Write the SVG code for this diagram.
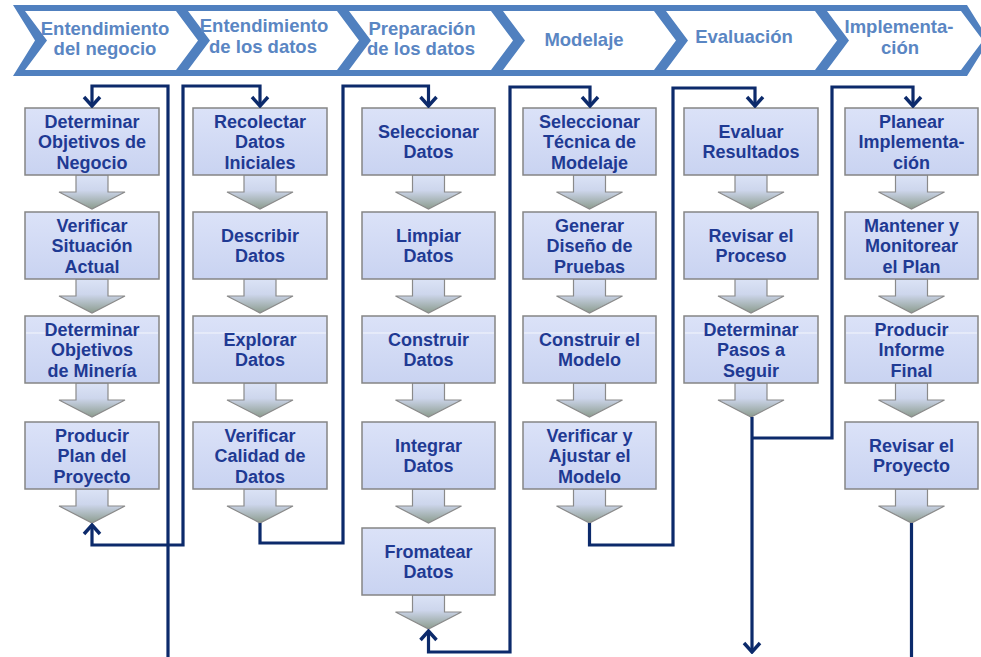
<svg xmlns="http://www.w3.org/2000/svg" width="981" height="657" viewBox="0 0 981 657">
<style>
.ht{font-family:"Liberation Sans",Arial,sans-serif;font-weight:bold;font-size:18.5px;fill:#5a86c3;text-anchor:middle}
.bt{font-family:"Liberation Sans",Arial,sans-serif;font-weight:bold;font-size:18px;fill:#1f3a93;text-anchor:middle}
.box{fill:url(#gBox);stroke:#858585;stroke-width:1.5}
.arr{fill:url(#gArr);stroke:#8a8a8a;stroke-width:1.2}
.hl{stroke:#ffffff;stroke-opacity:0.75;stroke-width:1.2}
.con{fill:none;stroke:#0c2a6b;stroke-width:3.2;stroke-linejoin:miter}
.chev{fill:#ffffff}
</style>
<defs>
<linearGradient id="gBox" x1="0" y1="0" x2="0" y2="1">
<stop offset="0" stop-color="#dbe2f8"/>
<stop offset="1" stop-color="#c9d3f1"/>
</linearGradient>
<linearGradient id="gArr" x1="0" y1="0" x2="0" y2="1">
<stop offset="0" stop-color="#dbe3f6"/>
<stop offset="0.45" stop-color="#cdd6ec"/>
<stop offset="1" stop-color="#8c9c8e"/>
</linearGradient>
<marker id="ah" viewBox="-12 -10 14 20" markerWidth="14" markerHeight="20" markerUnits="userSpaceOnUse" refX="0" refY="0" orient="auto-start-reverse">
<path d="M-9,-8 L0,0 L-9,8" fill="none" stroke="#0c2a6b" stroke-width="3.4"/>
</marker>
<path id="dn" d="M-16,0 V17 H-33 L0,34 L33,17 H16 V0 Z"/>
</defs>

<g id="header">
<polygon points="13,5 967,5 989,40.5 967,76 13,76 35,40.5" fill="#5080bf"/>
<g id="phase1"><polygon class="chev" points="25,11 176,11 198,40.5 176,70 25,70 47,40.5"/>
<text class="ht" x="105" y="35">Entendimiento</text><text class="ht" x="105" y="55">del negocio</text></g>
<g id="phase2"><polygon class="chev" points="188,11 337,11 359,40.5 337,70 188,70 210,40.5"/>
<text class="ht" x="264" y="32">Entendimiento</text><text class="ht" x="263" y="53">de los datos</text></g>
<g id="phase3"><polygon class="chev" points="349,11 491,11 513,40.5 491,70 349,70 371,40.5"/>
<text class="ht" x="422" y="35">Preparación</text><text class="ht" x="421" y="55">de los datos</text></g>
<g id="phase4"><polygon class="chev" points="503,11 654,11 676,40.5 654,70 503,70 525,40.5"/>
<text class="ht" x="584" y="46">Modelaje</text></g>
<g id="phase5"><polygon class="chev" points="666,11 815,11 837,40.5 815,70 666,70 688,40.5"/>
<text class="ht" x="744" y="43">Evaluación</text></g>
<g id="phase6"><polygon class="chev" points="827,11 961,11 983,40.5 961,70 827,70 849,40.5"/>
<text class="ht" x="899" y="33">Implementa-</text><text class="ht" x="900" y="54">ción</text></g>
</g>

<g id="flow-arrows">
<use href="#dn" class="arr" x="92" y="175"/><use href="#dn" class="arr" x="92" y="279"/><use href="#dn" class="arr" x="92" y="383"/><use href="#dn" class="arr" x="92" y="489"/>
<use href="#dn" class="arr" x="260" y="175"/><use href="#dn" class="arr" x="260" y="279"/><use href="#dn" class="arr" x="260" y="383"/><use href="#dn" class="arr" x="260" y="489"/>
<use href="#dn" class="arr" x="428.5" y="175"/><use href="#dn" class="arr" x="428.5" y="279"/><use href="#dn" class="arr" x="428.5" y="383"/><use href="#dn" class="arr" x="428.5" y="489"/><use href="#dn" class="arr" x="428.5" y="595"/>
<use href="#dn" class="arr" x="589.5" y="175"/><use href="#dn" class="arr" x="589.5" y="279"/><use href="#dn" class="arr" x="589.5" y="383"/><use href="#dn" class="arr" x="589.5" y="489"/>
<use href="#dn" class="arr" x="751" y="175"/><use href="#dn" class="arr" x="751" y="279"/><use href="#dn" class="arr" x="751" y="383"/>
<use href="#dn" class="arr" x="911.5" y="175"/><use href="#dn" class="arr" x="911.5" y="279"/><use href="#dn" class="arr" x="911.5" y="383"/><use href="#dn" class="arr" x="911.5" y="489"/>
</g>

<!-- Column 1 -->
<g id="c1n1"><rect class="box" x="25" y="108" width="134" height="67"/><text class="bt" x="92" y="127.5">Determinar<tspan x="92" dy="20.5">Objetivos de</tspan><tspan x="92" dy="20.5">Negocio</tspan></text></g>
<g id="c1n2"><rect class="box" x="25" y="212" width="134" height="67"/><text class="bt" x="92" y="231.5">Verificar<tspan x="92" dy="20.5">Situación</tspan><tspan x="92" dy="20.5">Actual</tspan></text></g>
<g id="c1n3"><rect class="box" x="25" y="316" width="134" height="67"/><line class="hl" x1="26" y1="333" x2="158" y2="333"/><text class="bt" x="92" y="335.5">Determinar<tspan x="92" dy="20.5">Objetivos</tspan><tspan x="92" dy="20.5">de Minería</tspan></text></g>
<g id="c1n4"><rect class="box" x="25" y="422" width="134" height="67"/><text class="bt" x="92" y="441.5">Producir<tspan x="92" dy="20.5">Plan del</tspan><tspan x="92" dy="20.5">Proyecto</tspan></text></g>

<!-- Column 2 -->
<g id="c2n1"><rect class="box" x="193" y="108" width="134" height="67"/><text class="bt" x="260" y="127.5">Recolectar<tspan x="260" dy="20.5">Datos</tspan><tspan x="260" dy="20.5">Iniciales</tspan></text></g>
<g id="c2n2"><rect class="box" x="193" y="212" width="134" height="67"/><text class="bt" x="260" y="241.75">Describir<tspan x="260" dy="20.5">Datos</tspan></text></g>
<g id="c2n3"><rect class="box" x="193" y="316" width="134" height="67"/><line class="hl" x1="194" y1="333" x2="326" y2="333"/><text class="bt" x="260" y="345.75">Explorar<tspan x="260" dy="20.5">Datos</tspan></text></g>
<g id="c2n4"><rect class="box" x="193" y="422" width="134" height="67"/><text class="bt" x="260" y="441.5">Verificar<tspan x="260" dy="20.5">Calidad de</tspan><tspan x="260" dy="20.5">Datos</tspan></text></g>

<!-- Column 3 -->
<g id="c3n1"><rect class="box" x="362" y="108" width="133" height="67"/><text class="bt" x="428.5" y="137.75">Seleccionar<tspan x="428.5" dy="20.5">Datos</tspan></text></g>
<g id="c3n2"><rect class="box" x="362" y="212" width="133" height="67"/><text class="bt" x="428.5" y="241.75">Limpiar<tspan x="428.5" dy="20.5">Datos</tspan></text></g>
<g id="c3n3"><rect class="box" x="362" y="316" width="133" height="67"/><line class="hl" x1="363" y1="333" x2="494" y2="333"/><text class="bt" x="428.5" y="345.75">Construir<tspan x="428.5" dy="20.5">Datos</tspan></text></g>
<g id="c3n4"><rect class="box" x="362" y="422" width="133" height="67"/><text class="bt" x="428.5" y="451.75">Integrar<tspan x="428.5" dy="20.5">Datos</tspan></text></g>
<g id="c3n5"><rect class="box" x="362" y="528" width="133" height="67"/><text class="bt" x="428.5" y="557.75">Fromatear<tspan x="428.5" dy="20.5">Datos</tspan></text></g>

<!-- Column 4 -->
<g id="c4n1"><rect class="box" x="523" y="108" width="133" height="67"/><text class="bt" x="589.5" y="127.5">Seleccionar<tspan x="589.5" dy="20.5">Técnica de</tspan><tspan x="589.5" dy="20.5">Modelaje</tspan></text></g>
<g id="c4n2"><rect class="box" x="523" y="212" width="133" height="67"/><text class="bt" x="589.5" y="231.5">Generar<tspan x="589.5" dy="20.5">Diseño de</tspan><tspan x="589.5" dy="20.5">Pruebas</tspan></text></g>
<g id="c4n3"><rect class="box" x="523" y="316" width="133" height="67"/><line class="hl" x1="524" y1="333" x2="655" y2="333"/><text class="bt" x="589.5" y="345.75">Construir el<tspan x="589.5" dy="20.5">Modelo</tspan></text></g>
<g id="c4n4"><rect class="box" x="523" y="422" width="133" height="67"/><text class="bt" x="589.5" y="441.5">Verificar y<tspan x="589.5" dy="20.5">Ajustar el</tspan><tspan x="589.5" dy="20.5">Modelo</tspan></text></g>

<!-- Column 5 -->
<g id="c5n1"><rect class="box" x="684" y="108" width="134" height="67"/><text class="bt" x="751" y="137.75">Evaluar<tspan x="751" dy="20.5">Resultados</tspan></text></g>
<g id="c5n2"><rect class="box" x="684" y="212" width="134" height="67"/><text class="bt" x="751" y="241.75">Revisar el<tspan x="751" dy="20.5">Proceso</tspan></text></g>
<g id="c5n3"><rect class="box" x="684" y="316" width="134" height="67"/><line class="hl" x1="685" y1="333" x2="817" y2="333"/><text class="bt" x="751" y="335.5">Determinar<tspan x="751" dy="20.5">Pasos a</tspan><tspan x="751" dy="20.5">Seguir</tspan></text></g>

<!-- Column 6 -->
<g id="c6n1"><rect class="box" x="845" y="108" width="133" height="67"/><text class="bt" x="911.5" y="127.5">Planear<tspan x="911.5" dy="20.5">Implementa-</tspan><tspan x="911.5" dy="20.5">ción</tspan></text></g>
<g id="c6n2"><rect class="box" x="845" y="212" width="133" height="67"/><text class="bt" x="911.5" y="231.5">Mantener y<tspan x="911.5" dy="20.5">Monitorear</tspan><tspan x="911.5" dy="20.5">el Plan</tspan></text></g>
<g id="c6n3"><rect class="box" x="845" y="316" width="133" height="67"/><line class="hl" x1="846" y1="333" x2="977" y2="333"/><text class="bt" x="911.5" y="335.5">Producir<tspan x="911.5" dy="20.5">Informe</tspan><tspan x="911.5" dy="20.5">Final</tspan></text></g>
<g id="c6n4"><rect class="box" x="845" y="422" width="133" height="67"/><text class="bt" x="911.5" y="451.75">Revisar el<tspan x="911.5" dy="20.5">Proyecto</tspan></text></g>

<g id="connectors">
<path class="con" d="M168,657 V86 H92 V106" marker-end="url(#ah)"/>
<path class="con" d="M92,525 V545 H183 V86 H260 V106" marker-start="url(#ah)" marker-end="url(#ah)"/>
<path class="con" d="M260,523 V543 H343 V86 H428.5 V106" marker-end="url(#ah)"/>
<path class="con" d="M428.5,631 V652 H510 V87 H590 V106" marker-start="url(#ah)" marker-end="url(#ah)"/>
<path class="con" d="M589.5,523 V545 H673 V88 H755 V106" marker-end="url(#ah)"/>
<path class="con" d="M752,417 V652" marker-end="url(#ah)"/>
<path class="con" d="M752,438 H832 V87 H913 V106" marker-end="url(#ah)"/>
<path class="con" d="M911.5,523 V657"/>
</g>
</svg>
